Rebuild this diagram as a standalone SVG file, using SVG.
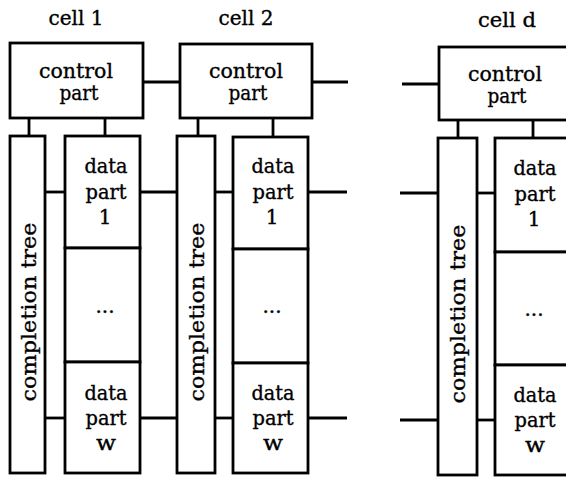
<svg xmlns="http://www.w3.org/2000/svg" width="566" height="479" viewBox="0 0 566 479">
<style>
.b{fill:#fff;stroke:#000;stroke-width:2.8}
.l{stroke:#000;stroke-width:2.8;fill:none}
text{font-family:"DejaVu Serif","Liberation Serif",serif;font-size:20px;fill:#000;stroke:#000;stroke-width:0.35;text-anchor:middle}
</style>
<rect width="566" height="479" fill="#fff"/>
<g id="connectors">
<line class="l" x1="143" y1="82" x2="180" y2="82"/>
<line class="l" x1="312" y1="82" x2="348" y2="82"/>
<line class="l" x1="402" y1="84" x2="439" y2="84"/>
<line class="l" x1="29" y1="118" x2="29" y2="136"/>
<line class="l" x1="105" y1="118" x2="105" y2="136"/>
<line class="l" x1="198" y1="118" x2="198" y2="136"/>
<line class="l" x1="273" y1="118" x2="273" y2="136"/>
<line class="l" x1="458" y1="120" x2="458" y2="138"/>
<line class="l" x1="533" y1="120" x2="533" y2="138"/>
<line class="l" x1="45" y1="192" x2="65" y2="192"/>
<line class="l" x1="45" y1="418" x2="65" y2="418"/>
<line class="l" x1="140" y1="192" x2="177" y2="192"/>
<line class="l" x1="140" y1="418" x2="177" y2="418"/>
<line class="l" x1="215" y1="192" x2="233" y2="192"/>
<line class="l" x1="215" y1="418" x2="233" y2="418"/>
<line class="l" x1="308" y1="192" x2="347" y2="192"/>
<line class="l" x1="308" y1="418" x2="347" y2="418"/>
<line class="l" x1="400" y1="193" x2="438" y2="193"/>
<line class="l" x1="400" y1="420" x2="438" y2="420"/>
<line class="l" x1="477" y1="193" x2="495" y2="193"/>
<line class="l" x1="477" y1="420" x2="495" y2="420"/>
</g>
<g id="label-cell1"><text x="76" y="25" textLength="55" lengthAdjust="spacingAndGlyphs">cell 1</text></g>
<g id="label-cell2"><text x="246" y="25" textLength="55" lengthAdjust="spacingAndGlyphs">cell 2</text></g>
<g id="label-celld"><text x="507" y="27" textLength="58" lengthAdjust="spacingAndGlyphs">cell d</text></g>
<g id="control1"><rect class="b" x="10" y="43" width="133" height="75"/><text x="76" y="78" textLength="74" lengthAdjust="spacingAndGlyphs">control</text><text x="79" y="100" textLength="39" lengthAdjust="spacingAndGlyphs">part</text></g>
<g id="control2"><rect class="b" x="180" y="44" width="132" height="74"/><text x="246" y="78" textLength="74" lengthAdjust="spacingAndGlyphs">control</text><text x="248" y="100" textLength="39" lengthAdjust="spacingAndGlyphs">part</text></g>
<g id="controld"><rect class="b" x="439" y="47" width="135" height="73"/><text x="505" y="81" textLength="74" lengthAdjust="spacingAndGlyphs">control</text><text x="507" y="103" textLength="39" lengthAdjust="spacingAndGlyphs">part</text></g>
<g id="tree1"><rect class="b" x="10" y="136" width="35" height="337"/><text transform="translate(36,312) rotate(-90)" textLength="179" lengthAdjust="spacingAndGlyphs">completion tree</text></g>
<g id="tree2"><rect class="b" x="177" y="136" width="38" height="337"/><text transform="translate(204,312) rotate(-90)" textLength="179" lengthAdjust="spacingAndGlyphs">completion tree</text></g>
<g id="treed"><rect class="b" x="438" y="138" width="39" height="337"/><text transform="translate(465,314) rotate(-90)" textLength="179" lengthAdjust="spacingAndGlyphs">completion tree</text></g>
<g id="data1-1"><rect class="b" x="65" y="136" width="75" height="112"/><text x="106" y="173" textLength="43" lengthAdjust="spacingAndGlyphs">data</text><text x="106" y="199" textLength="41" lengthAdjust="spacingAndGlyphs">part</text><text x="105" y="224">1</text></g>
<g id="data1-mid"><rect class="b" x="65" y="248" width="75" height="114"/><text x="105" y="313">...</text></g>
<g id="data1-w"><rect class="b" x="65" y="362" width="75" height="111"/><text x="106" y="400" textLength="43" lengthAdjust="spacingAndGlyphs">data</text><text x="106" y="425" textLength="41" lengthAdjust="spacingAndGlyphs">part</text><text x="106" y="450" textLength="20" lengthAdjust="spacingAndGlyphs">w</text></g>
<g id="data2-1"><rect class="b" x="233" y="137" width="75" height="112"/><text x="273" y="173" textLength="43" lengthAdjust="spacingAndGlyphs">data</text><text x="273" y="199" textLength="41" lengthAdjust="spacingAndGlyphs">part</text><text x="272" y="224">1</text></g>
<g id="data2-mid"><rect class="b" x="233" y="249" width="75" height="114"/><text x="272" y="313">...</text></g>
<g id="data2-w"><rect class="b" x="233" y="363" width="75" height="110"/><text x="273" y="400" textLength="43" lengthAdjust="spacingAndGlyphs">data</text><text x="273" y="425" textLength="41" lengthAdjust="spacingAndGlyphs">part</text><text x="273" y="450" textLength="20" lengthAdjust="spacingAndGlyphs">w</text></g>
<g id="datad-1"><rect class="b" x="495" y="138" width="80" height="114"/><text x="535" y="175" textLength="43" lengthAdjust="spacingAndGlyphs">data</text><text x="535" y="201" textLength="41" lengthAdjust="spacingAndGlyphs">part</text><text x="534" y="226">1</text></g>
<g id="datad-mid"><rect class="b" x="495" y="252" width="80" height="113"/><text x="534" y="316">...</text></g>
<g id="datad-w"><rect class="b" x="495" y="365" width="80" height="110"/><text x="535" y="402" textLength="43" lengthAdjust="spacingAndGlyphs">data</text><text x="535" y="427" textLength="41" lengthAdjust="spacingAndGlyphs">part</text><text x="535" y="452" textLength="20" lengthAdjust="spacingAndGlyphs">w</text></g>
</svg>
